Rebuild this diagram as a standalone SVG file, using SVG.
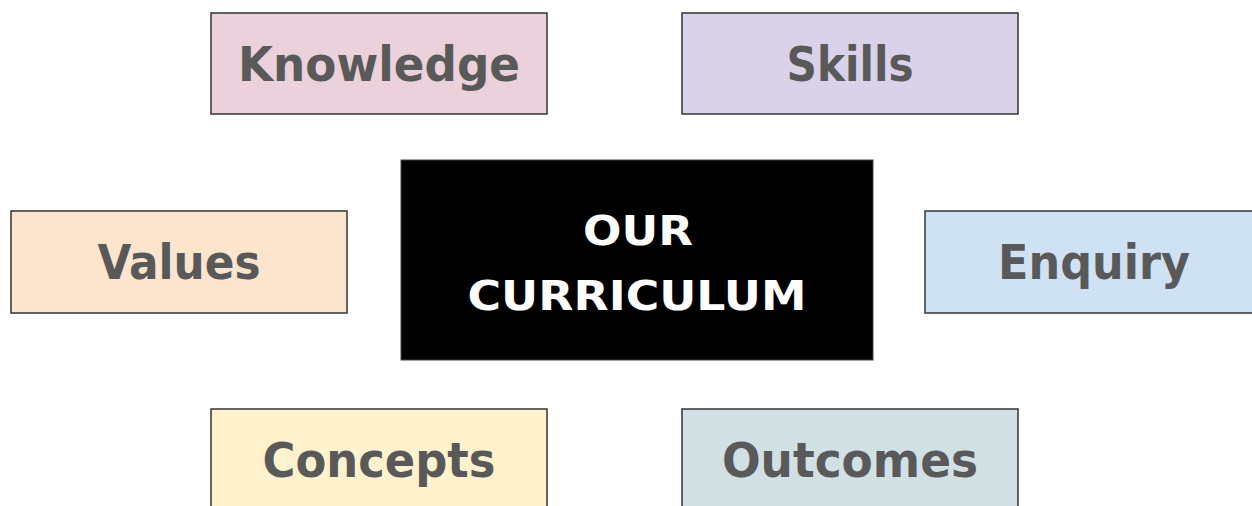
<svg xmlns="http://www.w3.org/2000/svg" width="1252" height="506" viewBox="0 0 1252 506">
<style>
.box{stroke:#333;stroke-width:1.5}
.lbl{font-family:"DejaVu Sans","Liberation Sans",sans-serif;font-weight:bold;font-size:48px;fill:#595959;text-anchor:middle}
.ctr{font-family:"DejaVu Sans","Liberation Sans",sans-serif;font-weight:bold;font-size:41px;fill:#fff;text-anchor:middle}
</style>
<rect width="1252" height="506" fill="#fff"/>
<g id="connectors"></g>
<g id="center">
<rect x="401" y="160" width="472" height="200" fill="#000" stroke="#444" stroke-width="1"/>
<text class="ctr" x="638" y="245" textLength="110" lengthAdjust="spacingAndGlyphs">OUR</text>
<text class="ctr" x="637" y="310" textLength="339" lengthAdjust="spacingAndGlyphs">CURRICULUM</text>
</g>
<g id="knowledge">
<rect class="box" x="211" y="13" width="336" height="101" fill="#ead1dc"/>
<text class="lbl" x="379" y="81" textLength="282" lengthAdjust="spacingAndGlyphs">Knowledge</text>
</g>
<g id="skills">
<rect class="box" x="682" y="13" width="336" height="101" fill="#d9d2e9"/>
<text class="lbl" x="850" y="81" textLength="127" lengthAdjust="spacingAndGlyphs">Skills</text>
</g>
<g id="values">
<rect class="box" x="11" y="211" width="336" height="102" fill="#fce5cd"/>
<text class="lbl" x="179" y="279" textLength="163" lengthAdjust="spacingAndGlyphs">Values</text>
</g>
<g id="enquiry">
<rect class="box" x="925" y="211" width="340" height="102" fill="#cfe2f3"/>
<text class="lbl" x="1094" y="279" textLength="192" lengthAdjust="spacingAndGlyphs">Enquiry</text>
</g>
<g id="concepts">
<rect class="box" x="211" y="409" width="336" height="110" fill="#fff2cc"/>
<text class="lbl" x="379" y="477" textLength="233" lengthAdjust="spacingAndGlyphs">Concepts</text>
</g>
<g id="outcomes">
<rect class="box" x="682" y="409" width="336" height="110" fill="#d0e0e3"/>
<text class="lbl" x="850" y="477" textLength="256" lengthAdjust="spacingAndGlyphs">Outcomes</text>
</g>
</svg>
